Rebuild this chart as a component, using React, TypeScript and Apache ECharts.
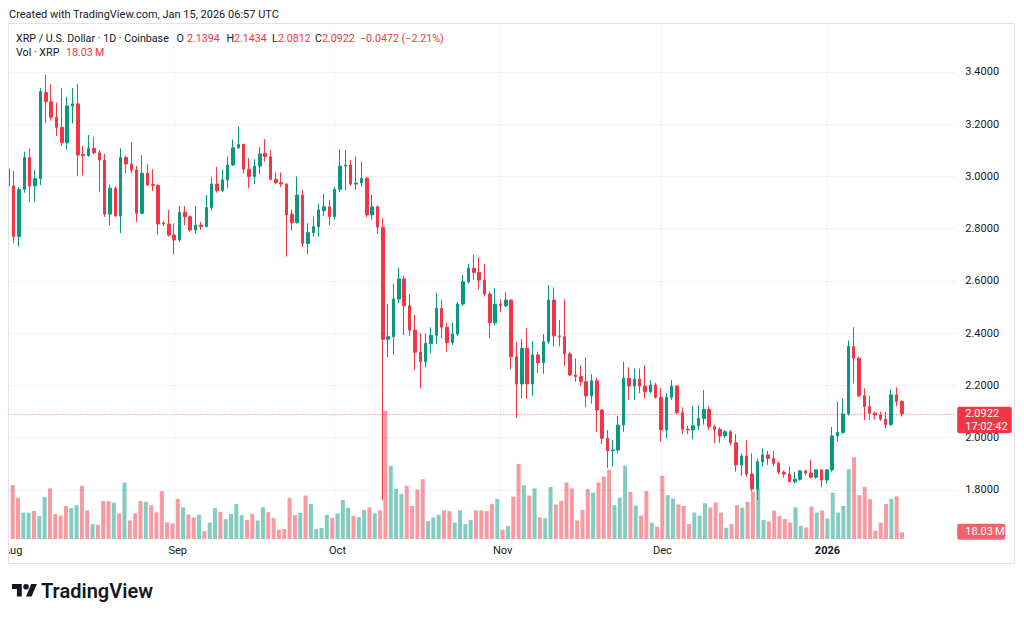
import React, { useEffect, useRef } from 'react';
import * as echarts from 'echarts';

const START_UTC = Date.UTC(2025, 7, 1);
const CATEGORY_COUNT = 178;

const tickDates = ['2025-08-01', '2025-09-01', '2025-10-01', '2025-11-01', '2025-12-01', '2026-01-01'];
const tickLabels = ['Aug', 'Sep', 'Oct', 'Nov', 'Dec', '2026'];

const opens = [
  3.030, 2.964, 2.770, 2.951, 3.073, 2.964, 2.992, 3.322, 3.286, 3.227,
  3.188, 3.129, 3.270, 3.278, 3.085, 3.080, 3.108, 3.091, 3.063, 2.856,
  2.955, 2.849, 3.073, 3.048, 3.025, 2.859, 3.012, 2.969, 2.966, 2.822,
  2.818, 2.776, 2.757, 2.863, 2.846, 2.795, 2.814, 2.809, 2.881, 2.971,
  2.946, 2.987, 3.044, 3.110, 3.123, 3.028, 3.000, 3.040, 3.089, 3.076,
  2.989, 2.976, 2.971, 2.856, 2.823, 2.929, 2.744, 2.785, 2.808, 2.869,
  2.884, 2.846, 2.951, 3.040, 3.044, 2.971, 2.975, 2.993, 2.853, 2.884,
  2.806, 2.377, 2.387, 2.531, 2.608, 2.505, 2.412, 2.327, 2.291, 2.361,
  2.392, 2.495, 2.423, 2.364, 2.397, 2.512, 2.597, 2.649, 2.633, 2.604,
  2.550, 2.440, 2.511, 2.505, 2.527, 2.310, 2.206, 2.342, 2.206, 2.317,
  2.287, 2.368, 2.527, 2.390, 2.387, 2.321, 2.240, 2.234, 2.215, 2.160,
  2.218, 2.106, 1.998, 1.950, 1.953, 2.049, 2.228, 2.198, 2.224, 2.198,
  2.176, 2.202, 2.155, 2.030, 2.155, 2.198, 2.096, 2.033, 2.030, 2.046,
  2.074, 2.109, 2.042, 2.032, 2.007, 2.023, 1.981, 1.896, 1.930, 1.861,
  1.804, 1.908, 1.934, 1.921, 1.902, 1.868, 1.861, 1.832, 1.841, 1.873,
  1.865, 1.849, 1.877, 1.838, 1.877, 2.007, 2.020, 2.091, 2.349, 2.304,
  2.161, 2.119, 2.094, 2.087, 2.071, 2.051, 2.164, 2.1394,
];

const highs = [
  3.050, 3.020, 2.960, 3.095, 3.108, 3.025, 3.338, 3.389, 3.353, 3.283,
  3.338, 3.305, 3.338, 3.354, 3.117, 3.159, 3.152, 3.100, 3.086, 2.970,
  2.962, 3.108, 3.080, 3.133, 3.040, 3.082, 3.048, 3.028, 2.970, 2.830,
  2.872, 2.820, 2.888, 2.887, 2.850, 2.888, 2.826, 2.929, 3.000, 3.037,
  3.027, 3.076, 3.142, 3.191, 3.125, 3.070, 3.066, 3.112, 3.143, 3.101,
  3.015, 3.015, 2.975, 2.874, 3.000, 2.948, 2.821, 2.846, 2.897, 2.933,
  2.910, 2.960, 3.104, 3.101, 3.063, 3.076, 3.057, 2.999, 2.929, 2.890,
  2.840, 2.512, 2.589, 2.651, 2.620, 2.550, 2.470, 2.400, 2.400, 2.423,
  2.555, 2.530, 2.440, 2.440, 2.520, 2.623, 2.665, 2.700, 2.691, 2.665,
  2.560, 2.572, 2.530, 2.557, 2.530, 2.368, 2.377, 2.419, 2.370, 2.330,
  2.397, 2.585, 2.576, 2.451, 2.530, 2.330, 2.304, 2.278, 2.308, 2.244,
  2.230, 2.110, 2.030, 1.990, 2.083, 2.291, 2.270, 2.265, 2.265, 2.278,
  2.220, 2.210, 2.190, 2.170, 2.221, 2.200, 2.117, 2.045, 2.122, 2.125,
  2.183, 2.120, 2.050, 2.040, 2.030, 2.030, 2.014, 1.940, 1.991, 1.940,
  1.920, 1.960, 1.950, 1.950, 1.910, 1.875, 1.889, 1.870, 1.877, 1.877,
  1.915, 1.880, 1.880, 1.880, 2.042, 2.138, 2.150, 2.372, 2.423, 2.310,
  2.189, 2.160, 2.100, 2.100, 2.100, 2.185, 2.193, 2.1434,
];

const lows = [
  2.950, 2.745, 2.731, 2.938, 2.904, 2.904, 2.967, 3.204, 3.214, 3.155,
  3.118, 3.104, 3.204, 3.002, 3.005, 3.075, 3.085, 2.942, 2.845, 2.814,
  2.845, 2.783, 3.012, 3.012, 2.827, 2.855, 2.965, 2.945, 2.776, 2.810,
  2.770, 2.703, 2.750, 2.814, 2.789, 2.780, 2.795, 2.805, 2.870, 2.938,
  2.940, 2.955, 3.040, 3.105, 3.012, 2.955, 2.971, 3.010, 3.057, 2.985,
  2.970, 2.959, 2.693, 2.793, 2.820, 2.731, 2.703, 2.770, 2.770, 2.849,
  2.814, 2.835, 2.940, 2.948, 2.965, 2.948, 2.961, 2.845, 2.834, 2.780,
  1.760, 2.308, 2.317, 2.515, 2.393, 2.390, 2.259, 2.189, 2.270, 2.323,
  2.360, 2.380, 2.329, 2.355, 2.390, 2.505, 2.590, 2.604, 2.568, 2.540,
  2.381, 2.430, 2.480, 2.500, 2.262, 2.076, 2.150, 2.150, 2.160, 2.247,
  2.245, 2.360, 2.351, 2.349, 2.275, 2.236, 2.215, 2.200, 2.117, 2.130,
  2.023, 1.976, 1.884, 1.889, 1.940, 2.023, 2.144, 2.144, 2.170, 2.150,
  2.170, 2.150, 1.985, 1.998, 2.145, 2.090, 2.014, 2.014, 1.994, 2.030,
  2.050, 2.030, 1.979, 1.980, 2.000, 1.970, 1.870, 1.854, 1.850, 1.794,
  1.762, 1.890, 1.896, 1.890, 1.860, 1.848, 1.830, 1.825, 1.836, 1.855,
  1.845, 1.843, 1.810, 1.825, 1.870, 1.985, 2.015, 2.085, 2.208, 2.155,
  2.068, 2.068, 2.070, 2.065, 2.036, 2.045, 2.120, 2.0812,
];

const closes = [
  2.964, 2.770, 2.951, 3.073, 2.964, 2.992, 3.325, 3.286, 3.227, 3.188,
  3.129, 3.270, 3.278, 3.082, 3.080, 3.108, 3.091, 3.063, 2.856, 2.955,
  2.849, 3.073, 3.048, 3.025, 2.859, 3.012, 2.967, 2.966, 2.818, 2.818,
  2.776, 2.757, 2.863, 2.846, 2.795, 2.814, 2.809, 2.881, 2.971, 2.946,
  2.987, 3.044, 3.110, 3.123, 3.028, 3.000, 3.040, 3.086, 3.076, 2.989,
  2.976, 2.971, 2.853, 2.823, 2.929, 2.744, 2.785, 2.808, 2.872, 2.884,
  2.846, 2.951, 3.040, 3.044, 2.971, 2.975, 2.993, 2.853, 2.884, 2.806,
  2.377, 2.387, 2.531, 2.608, 2.505, 2.412, 2.327, 2.291, 2.361, 2.392,
  2.495, 2.423, 2.364, 2.397, 2.512, 2.597, 2.649, 2.633, 2.604, 2.550,
  2.440, 2.511, 2.505, 2.527, 2.310, 2.206, 2.342, 2.206, 2.317, 2.287,
  2.368, 2.527, 2.390, 2.387, 2.321, 2.240, 2.234, 2.215, 2.160, 2.218,
  2.106, 1.998, 1.950, 1.953, 2.049, 2.228, 2.198, 2.224, 2.198, 2.176,
  2.202, 2.155, 2.030, 2.155, 2.198, 2.096, 2.033, 2.030, 2.046, 2.074,
  2.109, 2.042, 2.032, 2.007, 2.023, 1.981, 1.896, 1.930, 1.861, 1.804,
  1.908, 1.934, 1.921, 1.902, 1.868, 1.861, 1.832, 1.841, 1.873, 1.865,
  1.849, 1.877, 1.838, 1.877, 2.007, 2.020, 2.091, 2.349, 2.304, 2.161,
  2.119, 2.094, 2.087, 2.071, 2.051, 2.164, 2.1394, 2.0922,
];

// daily volume, millions of XRP
const volumes = [
  145, 111, 71, 71, 75, 62, 113, 136, 67, 63,
  89, 83, 91, 143, 77, 40, 38, 102, 102, 98,
  69, 152, 50, 69, 102, 100, 91, 72, 129, 45,
  42, 108, 85, 66, 58, 65, 21, 44, 83, 73,
  53, 67, 94, 64, 51, 67, 50, 85, 72, 56,
  25, 27, 111, 64, 70, 117, 94, 27, 30, 65,
  57, 69, 105, 84, 62, 59, 78, 85, 69, 77,
  345, 197, 135, 121, 143, 89, 133, 161, 48, 58,
  65, 77, 75, 44, 77, 40, 51, 77, 77, 75,
  94, 108, 25, 35, 114, 202, 144, 117, 136, 58,
  56, 140, 93, 102, 152, 136, 50, 78, 134, 125,
  152, 168, 186, 91, 111, 197, 127, 90, 63, 129,
  44, 33, 170, 118, 109, 93, 89, 40, 71, 63,
  96, 85, 98, 71, 30, 40, 91, 84, 100, 127,
  136, 51, 47, 76, 62, 54, 44, 85, 35, 31,
  87, 71, 77, 55, 125, 71, 89, 188, 220, 118,
  140, 107, 22, 44, 94, 108, 115, 18.03,
];

const UP = '#089981';
const DOWN = '#f23645';
const VOL_UP = 'rgba(8,153,129,0.5)';
const VOL_DOWN = 'rgba(242,54,69,0.5)';
const TEXT = '#131722';
const GRID_LINE = '#f0f3fa';
const FONT = 'Roboto, "Liberation Sans", sans-serif';

function buildCategories(): string[] {
  const out: string[] = [];
  for (let i = 0; i < CATEGORY_COUNT; i++) {
    out.push(new Date(START_UTC + i * 86400000).toISOString().slice(0, 10));
  }
  return out;
}

const TV_LOGO = 'M14 22H7V11H0V4h14v18z M28 22h-8l7.5-18h8L28 22z M24 8a4 4 0 1 1-8 0a4 4 0 1 1 8 0z';

export default function App() {
  const ref = useRef<HTMLDivElement>(null);

  useEffect(() => {
    if (!ref.current) return;
    try {
      echarts.graphic.registerShape('tvlogo', echarts.graphic.extendPath(TV_LOGO, {}) as any);
    } catch (e) {}
    const chart = echarts.init(ref.current, undefined, { renderer: 'svg' });
    const categories = buildCategories();
    const candleData = opens.map((o, i) => [o, closes[i], lows[i], highs[i]]);
    const volData = volumes.map((v, i) => ({
      value: v,
      itemStyle: { color: closes[i] >= opens[i] ? VOL_UP : VOL_DOWN },
    }));
    const lastClose = closes[closes.length - 1];
    const lastVol = volumes[volumes.length - 1];

    const isTick = (_: number, value: string) => tickDates.indexOf(value) >= 0;

    const legendY1 = 38.5;
    const legendY2 = 52.5;
    const LG = 10.7;
    const txt = (id: string, x: number, y: number, text: string, fill: string, size = 12, weight: any = 'normal', z = 200) => ({
      type: 'text', id, x, y, z,
      style: { text, fill, font: `${weight} ${size}px ${FONT}`, textVerticalAlign: 'middle', verticalAlign: 'middle' },
    });

    chart.setOption({
      animation: false,
      backgroundColor: '#ffffff',
      textStyle: { fontFamily: FONT },
      grid: [
        { left: 8.3, right: 68.75, top: 24, bottom: 78 },
        { left: 8.3, right: 68.75, top: 390.3, bottom: 79 },
      ],
      xAxis: [
        {
          type: 'category', gridIndex: 0, data: categories, boundaryGap: false,
          axisLine: { show: false }, axisTick: { show: false }, axisLabel: { show: false },
          splitLine: { show: true, interval: isTick, lineStyle: { color: GRID_LINE, width: 1 } },
        },
        {
          type: 'category', gridIndex: 1, data: categories, boundaryGap: false,
          axisLine: { show: false }, axisTick: { show: false },
          splitLine: { show: false },
          axisLabel: {
            show: true, interval: isTick, margin: 6, color: TEXT, fontSize: 11, fontFamily: FONT,
            formatter: (value: string) => {
              const i = tickDates.indexOf(value);
              if (i < 0) return '';
              return i === tickDates.length - 1 ? `{b|${tickLabels[i]}}` : tickLabels[i];
            },
            rich: { b: { fontWeight: 'bold', fontSize: 11, color: TEXT, fontFamily: FONT } },
          },
        },
      ],
      yAxis: [
        {
          type: 'value', gridIndex: 0, position: 'right', scale: true,
          min: 1.60861, max: 3.58373, splitNumber: 10,
          axisLine: { show: false }, axisTick: { show: false },
          axisLabel: {
            color: TEXT, fontSize: 11, margin: 10, fontFamily: FONT,
            showMinLabel: false, showMaxLabel: false,
            formatter: (v: number) => v.toFixed(4),
          },
          splitLine: { show: true, showMinLine: false, showMaxLine: false, lineStyle: { color: GRID_LINE, width: 1 } },
        },
        {
          type: 'value', gridIndex: 1, min: 0, max: 400, show: false,
          splitLine: { show: false },
        },
      ],
      series: [
        {
          type: 'bar', name: 'Vol', xAxisIndex: 1, yAxisIndex: 1, data: volData,
          barWidth: 4, z: 1,
          markLine: {
            silent: true, symbol: ['none', 'none'],
            lineStyle: { opacity: 0 }, label: { show: false },
            data: [{ yAxis: lastVol }],
          },
        },
        {
          type: 'candlestick', name: 'XRPUSD', xAxisIndex: 0, yAxisIndex: 0, data: candleData,
          barWidth: 3, z: 3,
          itemStyle: { color: UP, color0: DOWN, borderColor: UP, borderColor0: DOWN, borderWidth: 1 },
          markLine: {
            silent: true, symbol: ['none', 'none'],
            lineStyle: { color: DOWN, type: [1, 2], width: 1, opacity: 0.75 },
            label: { show: false },
            data: [{ yAxis: lastClose }],
          },
        },
      ],
      graphic: [
        txt('hdr', 9, 14, 'Created with TradingView.com, Jan 15, 2026 06:57 UTC', TEXT, 11),
        txt('l1a', 16, legendY1, 'XRP / U.S. Dollar · 1D · Coinbase', TEXT, LG),
        txt('l1o', 176.5, legendY1, 'O', TEXT, LG),
        txt('l1ov', 187, legendY1, '2.1394', DOWN, LG),
        txt('l1h', 226.5, legendY1, 'H', TEXT, LG),
        txt('l1hv', 234, legendY1, '2.1434', DOWN, LG),
        txt('l1l', 272, legendY1, 'L', TEXT, LG),
        txt('l1lv', 278, legendY1, '2.0812', DOWN, LG),
        txt('l1c', 315, legendY1, 'C', TEXT, LG),
        txt('l1cv', 322, legendY1, '2.0922', DOWN, LG),
        txt('l1ch', 360, legendY1, '\u22120.0472 (\u22122.21%)', DOWN, LG),
        txt('l2a', 16, legendY2, 'Vol · XRP', TEXT, LG),
        txt('l2v', 66, legendY2, '18.03\u2009M', DOWN, LG),
        { type: 'rect', id: 'mask', z: 150, shape: { x: 0, y: 24, width: 8.5, height: 540 }, style: { fill: '#ffffff' } },
        { type: 'rect', id: 'frame', z: 160, shape: { x: 8.5, y: 23.5, width: 1006, height: 540 }, style: { fill: 'none', stroke: '#e0e3eb', lineWidth: 1 } },
        { type: 'tvlogo', id: 'logo', x: 12, y: 581.2, scaleX: 0.7, scaleY: 0.7, z: 200, style: { fill: TEXT } },
        txt('logotxt', 41, 591, 'TradingView', TEXT, 20, 600),
      ],
    });

    const xr = chart.convertToPixel({ xAxisIndex: 0 }, categories[categories.length - 1]) as number;
    const yP = chart.convertToPixel({ yAxisIndex: 0 }, lastClose) as number;
    const yV = chart.convertToPixel({ yAxisIndex: 1 }, lastVol) as number;
    chart.setOption({
      graphic: [
        { type: 'rect', id: 'pbox', z: 210, shape: { x: xr + 2, y: yP - 7, width: 54.5, height: 26.7, r: 2 }, style: { fill: DOWN } },
        txt('ptxt', xr + 10, yP, lastClose.toFixed(4), '#ffffff', 11, 'normal', 230),
        txt('ptime', xr + 10, yP + 13, '17:02:42', '#ffffff', 11, 'normal', 230),
        { type: 'rect', id: 'vbox', z: 210, shape: { x: xr + 2, y: yV - 8.5, width: 48, height: 16, r: 2 }, style: { fill: '#f4606c' } },
        txt('vtxt', xr + 10, yV - 0.5, '18.03\u2009M', '#ffffff', 11, 'normal', 230),
      ],
    });

    return () => chart.dispose();
  }, []);

  return <div ref={ref} style={{ position: 'absolute', left: 0, top: 0, width: 1024, height: 618 }} />;
}
